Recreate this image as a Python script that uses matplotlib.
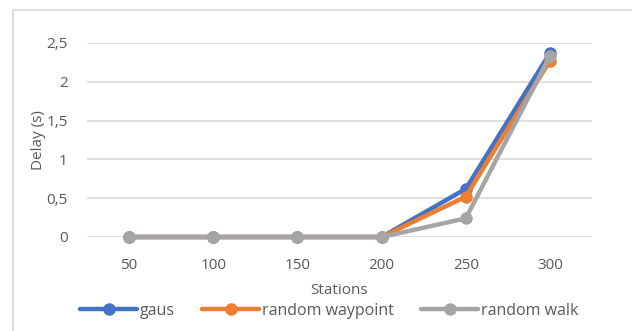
import matplotlib.pyplot as plt
from matplotlib.patches import Rectangle
from matplotlib.ticker import FuncFormatter

# data
stations = ['50', '100', '150', '200', '250', '300']
gaus = [0, 0, 0, 0, 0.62, 2.37]
random_waypoint = [0, 0, 0, 0, 0.52, 2.27]
random_walk = [0, 0, 0, 0, 0.24, 2.33]

series = [
    ('gaus', gaus, '#4472C4'),
    ('random waypoint', random_waypoint, '#ED7D31'),
    ('random walk', random_walk, '#A5A5A5'),
]

plt.rcParams['font.family'] = ['Open Sans', 'DejaVu Sans']
text_color = '#595959'

fig = plt.figure(figsize=(6.32, 3.31), dpi=100)
fig.patches.append(Rectangle((13 / 632, -0.1), 1.2, 1 - 10 / 331 + 0.1,
                             transform=fig.transFigure, fill=False,
                             edgecolor='#D9D9D9', linewidth=1.2))

ax = fig.add_axes([87 / 632, 1 - 237 / 331, (592 - 87) / 632, (237 - 43) / 331])

x = range(len(stations))
for name, vals, color in series:
    ax.plot(x, vals, color=color, linewidth=3.2, marker='o', markersize=8,
            label=name, solid_capstyle='round', clip_on=False)

ax.set_xlim(-0.5, len(stations) - 0.5)
ax.set_ylim(0, 2.5)
ax.set_yticks([0, 0.5, 1, 1.5, 2, 2.5])
ax.yaxis.set_major_formatter(FuncFormatter(
    lambda v, p: f'{v:g}'.replace('.', ',')))
ax.set_xticks(list(x))
ax.set_xticklabels(stations)
ax.grid(axis='y', color='#D9D9D9', linewidth=1.2)
ax.set_axisbelow(True)
for s in ax.spines.values():
    s.set_visible(False)
ax.tick_params(length=0, labelsize=11, colors=text_color)
ax.tick_params(axis='x', pad=15)
ax.tick_params(axis='y', pad=14)

ax.set_xlabel('Stations', fontsize=11, color=text_color, labelpad=7)
ax.set_ylabel('Delay (s)', fontsize=11, color=text_color, labelpad=0)

fig.legend(loc='center', bbox_to_anchor=(329 / 632, 1 - 311 / 331), ncol=3,
           frameon=False, fontsize=11.5, handlelength=3.6, handletextpad=0.15,
           columnspacing=1.7, labelcolor=text_color)

fig.savefig('out.png', dpi=100)
